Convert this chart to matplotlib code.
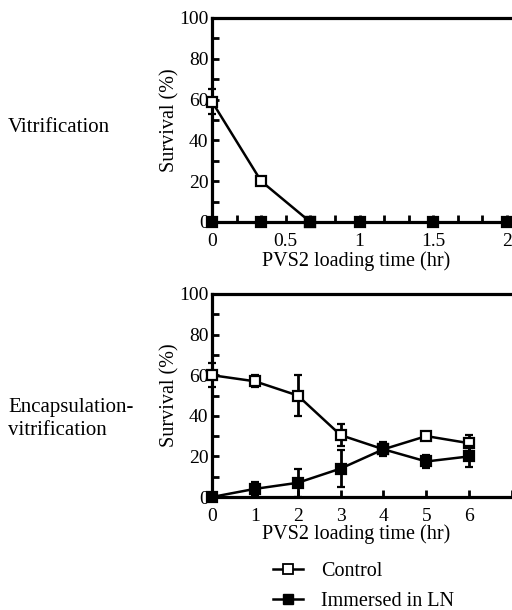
import matplotlib
matplotlib.use("Agg")
import matplotlib.pyplot as plt
import numpy as np
from matplotlib.lines import Line2D

plt.rcParams['font.family'] = ['Liberation Serif', 'DejaVu Serif']

# Top panel: Vitrification
vit_x_ctrl = [0, 1/3, 2/3]
vit_ctrl = [59, 20, 0]
vit_ctrl_err = [6, 2, 0]
vit_x_ln = [0, 1/3, 2/3, 1.0, 1.5, 2.0]
vit_ln = [0, 0, 0, 0, 0, 0]
vit_ln_err = [0, 0, 0, 0, 0, 0]
vit_xticks = [0, 0.5, 1, 1.5, 2]
vit_xticklabels = ['0', '0.5', '1', '1.5', '2']

# Bottom panel: Encapsulation-vitrification
enc_x = [0, 1, 2, 3, 4, 5, 6]
enc_ctrl = [60, 57, 50, 30.5, 23.5, 30, 26.5]
enc_ctrl_err = [6, 3, 10, 5.5, 3, 1, 4]
enc_ln = [0, 4, 7, 14, 23.5, 17.5, 20]
enc_ln_err = [0, 3.5, 7, 9, 3.5, 3, 5]
enc_xticks = [0, 1, 2, 3, 4, 5, 6]

yticks = [0, 20, 40, 60, 80, 100]

W, H = 512, 610
fig = plt.figure(figsize=(W/100, H/100), dpi=100)

def px(x0, y0, x1, y1):
    return [x0/W, 1 - y1/H, (x1-x0)/W, (y1-y0)/H]

FS_TICK = 14
FS_LAB = 14.5

def style(ax, xlim, minor_x, xticks, xticklabels):
    ax.set_ylim(0, 100)
    ax.set_xlim(*xlim)
    for s in ['left', 'bottom', 'top']:
        ax.spines[s].set_linewidth(2.3)
    ax.spines['right'].set_visible(False)
    ax.set_yticks(yticks)
    ax.set_yticklabels([str(v) for v in yticks], fontsize=FS_TICK)
    ax.set_yticks(np.arange(10, 100, 20), minor=True)
    ax.set_xticks(xticks)
    ax.set_xticklabels(xticklabels, fontsize=FS_TICK)
    ax.set_xticks(minor_x, minor=True)
    ax.tick_params(axis='both', which='both', direction='in', width=2, length=5,
                   top=False, right=False, pad=2.5)
    ax.tick_params(axis='x', which='major', pad=8)
    ax.set_ylabel('Survival (%)', fontsize=FS_LAB, labelpad=0)

mk = dict(marker='s', markersize=7.5, markeredgewidth=1.6, markeredgecolor='black',
          linewidth=1.8, color='black', elinewidth=2, capsize=3, capthick=2, clip_on=False)

# Top axes
ax1 = fig.add_axes(px(212, 18, 512, 222))
style(ax1, (0, 300/147.5), [v/6 for v in range(1, 13) if v % 3 != 0], vit_xticks, vit_xticklabels)
ax1.errorbar(vit_x_ctrl, vit_ctrl, yerr=vit_ctrl_err, markerfacecolor='white', zorder=4, **mk)
ax1.errorbar(vit_x_ln, vit_ln, yerr=vit_ln_err, markerfacecolor='black', zorder=5, **mk)
fig.text(356/W, 1 - 261/H, 'PVS2 loading time (hr)', fontsize=FS_LAB, ha='center', va='center')

# Bottom axes
ax2 = fig.add_axes(px(212, 294, 512, 497))
style(ax2, (0, 300/43.3), [7], enc_xticks, [str(v) for v in enc_xticks])
ax2.errorbar(enc_x, enc_ctrl, yerr=enc_ctrl_err, markerfacecolor='white', zorder=4, **mk)
ax2.errorbar(enc_x, enc_ln, yerr=enc_ln_err, markerfacecolor='black', zorder=5, **mk)
fig.text(356/W, 1 - 534/H, 'PVS2 loading time (hr)', fontsize=FS_LAB, ha='center', va='center')

# Left-side titles
fig.text(8/W, 1 - 127/H, 'Vitrification', fontsize=15, ha='left', va='center')
fig.text(8/W, 1 - 419/H, 'Encapsulation-\nvitrification', fontsize=15, ha='left', va='center',
         linespacing=1.35)

# Legend
h1 = Line2D([], [], color='black', linewidth=1.8, marker='s', markersize=7,
            markerfacecolor='white', markeredgecolor='black', markeredgewidth=1.3)
h2 = Line2D([], [], color='black', linewidth=1.8, marker='s', markersize=7,
            markerfacecolor='black', markeredgecolor='black')
fig.legend([h1, h2], ['Control', 'Immersed in LN'], loc='upper left',
           bbox_to_anchor=(273/W, 1 - 562/H), frameon=False, fontsize=FS_LAB,
           handlelength=1.5, handletextpad=0.9, labelspacing=0.55, borderpad=0, borderaxespad=0)

fig.savefig('out.png', dpi=100)
